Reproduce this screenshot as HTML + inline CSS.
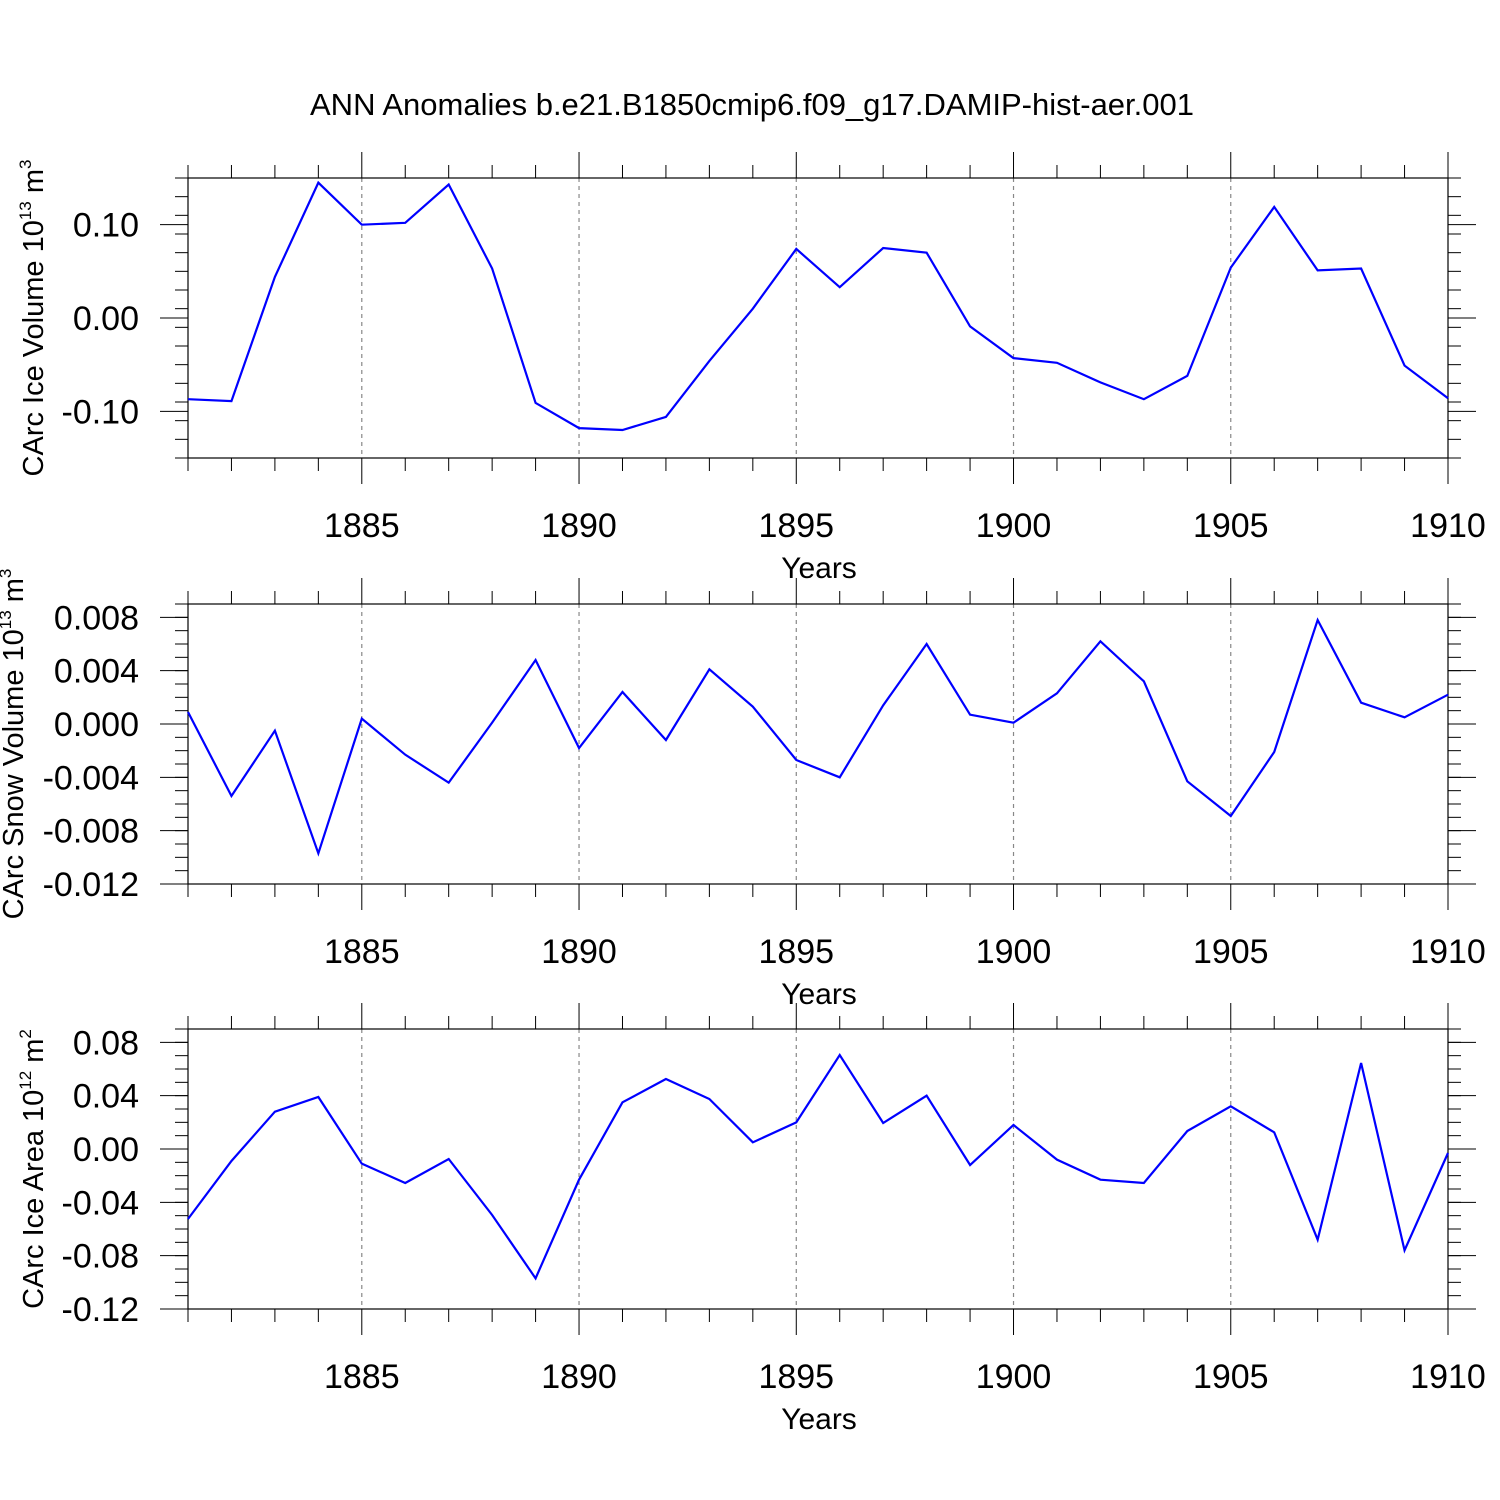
<!DOCTYPE html>
<html><head><meta charset="utf-8"><style>
html,body{margin:0;padding:0;background:#fff;}
svg{display:block;font-family:"Liberation Sans",sans-serif;}
</style></head><body>
<svg id="c" width="1500" height="1500" xmlns="http://www.w3.org/2000/svg">
<text x="752" y="115" font-size="31" text-anchor="middle">ANN Anomalies b.e21.B1850cmip6.f09_g17.DAMIP-hist-aer.001</text>
</svg>
<script>
const years = [1881,1882,1883,1884,1885,1886,1887,1888,1889,1890,1891,1892,1893,1894,1895,1896,1897,1898,1899,1900,1901,1902,1903,1904,1905,1906,1907,1908,1909,1910];
const iceVolume = [-0.087,-0.089,0.044,0.145,0.100,0.102,0.143,0.053,-0.091,-0.118,-0.120,-0.106,-0.046,0.010,0.074,0.033,0.075,0.070,-0.009,-0.043,-0.048,-0.069,-0.087,-0.062,0.054,0.119,0.051,0.053,-0.051,-0.086];
const snowVolume = [0.0009,-0.0054,-0.0005,-0.0097,0.0004,-0.0023,-0.0044,0.0001,0.0048,-0.0018,0.0024,-0.0012,0.0041,0.0013,-0.0027,-0.0040,0.0014,0.0060,0.0007,0.0001,0.0023,0.0062,0.0032,-0.0043,-0.0069,-0.0021,0.0078,0.0016,0.0005,0.0022];
const iceArea = [-0.0525,-0.009,0.028,0.039,-0.011,-0.0255,-0.0075,-0.0495,-0.097,-0.023,0.035,0.0525,0.0375,0.005,0.020,0.0705,0.0195,0.040,-0.012,0.018,-0.008,-0.023,-0.0255,0.0135,0.032,0.0125,-0.068,0.0645,-0.076,-0.003];
const xTicks = [1885,1890,1895,1900,1905,1910];
const yTicks1 = ["-0.10","0.00","0.10"];
const yTicks2 = ["-0.012","-0.008","-0.004","0.000","0.004","0.008"];
const yTicks3 = ["-0.12","-0.08","-0.04","0.00","0.04","0.08"];

const NS="http://www.w3.org/2000/svg";
const svg=document.getElementById('c');
function mk(tag,attrs,parent){const e=document.createElementNS(NS,tag);for(const k in attrs)e.setAttribute(k,attrs[k]);(parent||svg).appendChild(e);return e;}

const X0=188,X1=1448,XMIN=1881,XMAX=1910;
const xs=v=>X0+(v-XMIN)/(XMAX-XMIN)*(X1-X0);

const panels=[
 {top:178,min:-0.15,max:0.15,minor:0.02,data:iceVolume,ticks:yTicks1,label:"CArc Ice Volume 10",sup:"13",unit:" m",usup:"3",name:"ice-volume",tx:43},
 {top:604,min:-0.012,max:0.009,minor:0.001,data:snowVolume,ticks:yTicks2,label:"CArc Snow Volume 10",sup:"13",unit:" m",usup:"3",name:"snow-volume",tx:23},
 {top:1029,min:-0.12,max:0.09,minor:0.01,data:iceArea,ticks:yTicks3,label:"CArc Ice Area 10",sup:"12",unit:" m",usup:"2",name:"ice-area",tx:43}
];
panels.forEach(p=>{
 const H=280,bot=p.top+H;
 const ys=v=>bot-(v-p.min)/(p.max-p.min)*H;
 const g=mk('g',{});
 
 
 xTicks.forEach(t=>{if(t<XMAX){const l=mk('line',{x1:xs(t),x2:xs(t),y1:p.top,y2:bot,stroke:'#888','stroke-width':1.2,'stroke-dasharray':'4,4'},g);
 
 }});
 for(let y=XMIN;y<=XMAX;y++){const maj=xTicks.includes(y);const L=maj?26:13;
  mk('line',{x1:xs(y),x2:xs(y),y1:p.top,y2:p.top-L,stroke:'#000','stroke-width':1},g);
  mk('line',{x1:xs(y),x2:xs(y),y1:bot,y2:bot+L,stroke:'#000','stroke-width':1},g);}
 xTicks.forEach(t=>{const tx=mk('text',{x:xs(t),y:bot+79,'font-size':34,'text-anchor':'middle'},g);tx.textContent=t;
 
 });
 const xt=mk('text',{x:819,y:bot+120,'font-size':30,'text-anchor':'middle'},g);xt.textContent='Years';
 
 
 const n=Math.round((p.max-p.min)/p.minor);
 for(let i=0;i<=n;i++){const v=p.min+i*p.minor;const y=ys(v);
  mk('line',{x1:X0,x2:X0-13,y1:y,y2:y,stroke:'#000','stroke-width':1},g);
  mk('line',{x1:X1,x2:X1+13,y1:y,y2:y,stroke:'#000','stroke-width':1},g);}
 p.ticks.forEach(s=>{const v=parseFloat(s);const y=ys(v);
  mk('line',{x1:X0,x2:X0-28,y1:y,y2:y,stroke:'#000','stroke-width':1},g);
  mk('line',{x1:X1,x2:X1+28,y1:y,y2:y,stroke:'#000','stroke-width':1},g);
  const tx=mk('text',{x:139,y:y+12,'font-size':34,'text-anchor':'end'},g);tx.textContent=s;
  
  });
 mk('rect',{x:X0,y:p.top,width:X1-X0,height:H,fill:'none',stroke:'#000','stroke-width':1.2},g);
 const pts=p.data.map((v,i)=>xs(years[i])+','+ys(v)).join(' ');
 const pl=mk('polyline',{points:pts,fill:'none',stroke:'#0000ff','stroke-width':2.2,'stroke-linejoin':'miter'},g);
 
 
 const cy=p.top+H/2;
 const yt=mk('text',{x:0,y:0,'font-size':29,'text-anchor':'middle',transform:`translate(${p.tx},${cy}) rotate(-90)`},g);
 
 
 const a=mk('tspan',{},yt);a.textContent=p.label;
 const b=mk('tspan',{'font-size':17,dy:-12},yt);b.textContent=p.sup;
 const c=mk('tspan',{dy:12},yt);c.textContent=p.unit;
 const d=mk('tspan',{'font-size':17,dy:-12},yt);d.textContent=p.usup;
});
</script>
</body></html>
